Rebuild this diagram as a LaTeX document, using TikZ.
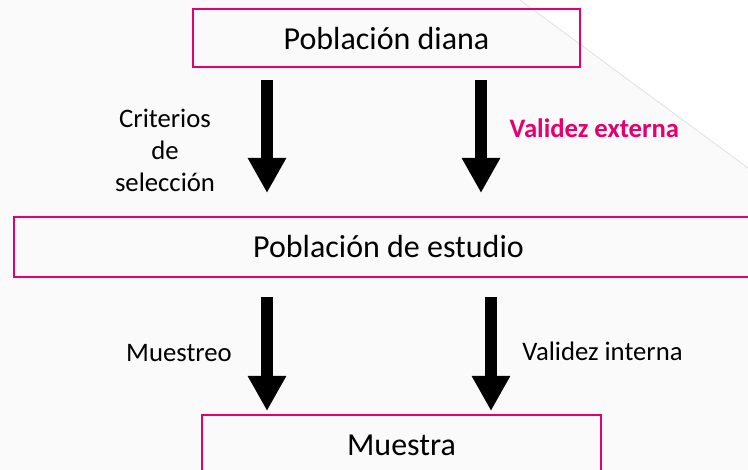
\documentclass[tikz,border=0pt]{standalone}
\usepackage{fontspec}
\setmainfont{Carlito}
\usetikzlibrary{arrows.meta}
\definecolor{pinkc}{RGB}{230,0,110}
\definecolor{bggrey}{RGB}{250,250,250}
\definecolor{diagline}{RGB}{225,225,225}
\tikzset{
  boxframe/.style={draw=pinkc, line width=2pt},
  boxtext/.style={anchor=base, inner sep=0pt, font=\fontsize{32}{38}\selectfont},
  sidetext/.style={anchor=base, inner sep=0pt, font=\fontsize{26.7}{32}\selectfont},
  blockarrow/.style={line width=12pt, line cap=butt, -{Triangle[width=36pt,length=35pt]}},
}
\begin{document}
\begin{tikzpicture}[x=1pt,y=-1pt]
\useasboundingbox (0,0) rectangle (748,470);
\clip (0,0) rectangle (748,470);
% background
\fill[bggrey] (0,0) rectangle (748,470);
\fill[white] (520,0) -- (748,0) -- (748,168) -- cycle;
\draw[diagline, line width=0.8pt] (520,0) -- (748,168);
% boxes
\node[boxframe, minimum width=387pt, minimum height=58pt, inner sep=0pt] (topbox) at (386.5,38) {};
\node[boxframe, minimum width=760pt, minimum height=60pt, inner sep=0pt] (midbox) at (394,247) {};
\node[boxframe, minimum width=399pt, minimum height=80pt, inner sep=0pt] (botbox) at (401.5,455) {};
% box texts
\node[boxtext] (toptext) at (386.5,50) {Población diana};
\node[boxtext] (midtext) at (388.5,258) {Población de estudio};
\node[boxtext] (bottext) at (401.5,455.5) {Muestra};
% arrow end points
\coordinate (a1s) at (267,80);  \coordinate (a1e) at (267,193);
\coordinate (a2s) at (481,80);  \coordinate (a2e) at (481,193);
\coordinate (a3s) at (267,297); \coordinate (a3e) at (267,411);
\coordinate (a4s) at (491,297); \coordinate (a4e) at (491,411);
\draw[blockarrow] (a1s) -- (a1e);
\draw[blockarrow] (a2s) -- (a2e);
\draw[blockarrow] (a3s) -- (a3e);
\draw[blockarrow] (a4s) -- (a4e);
% labels
\node[sidetext] (crit1) at (165,128) {Criterios};
\node[sidetext] (crit2) at (165,160) {de};
\node[sidetext] (crit3) at (165,192) {selección};
\node[sidetext, anchor=base west, text=pinkc, font=\fontsize{26.7}{32}\selectfont\bfseries] (valext) at (509.5,138) {Validez externa};
\node[sidetext] (muestreo) at (179,362) {Muestreo};
\node[sidetext] (valint) at (602.5,361) {Validez interna};
\end{tikzpicture}
\end{document}
